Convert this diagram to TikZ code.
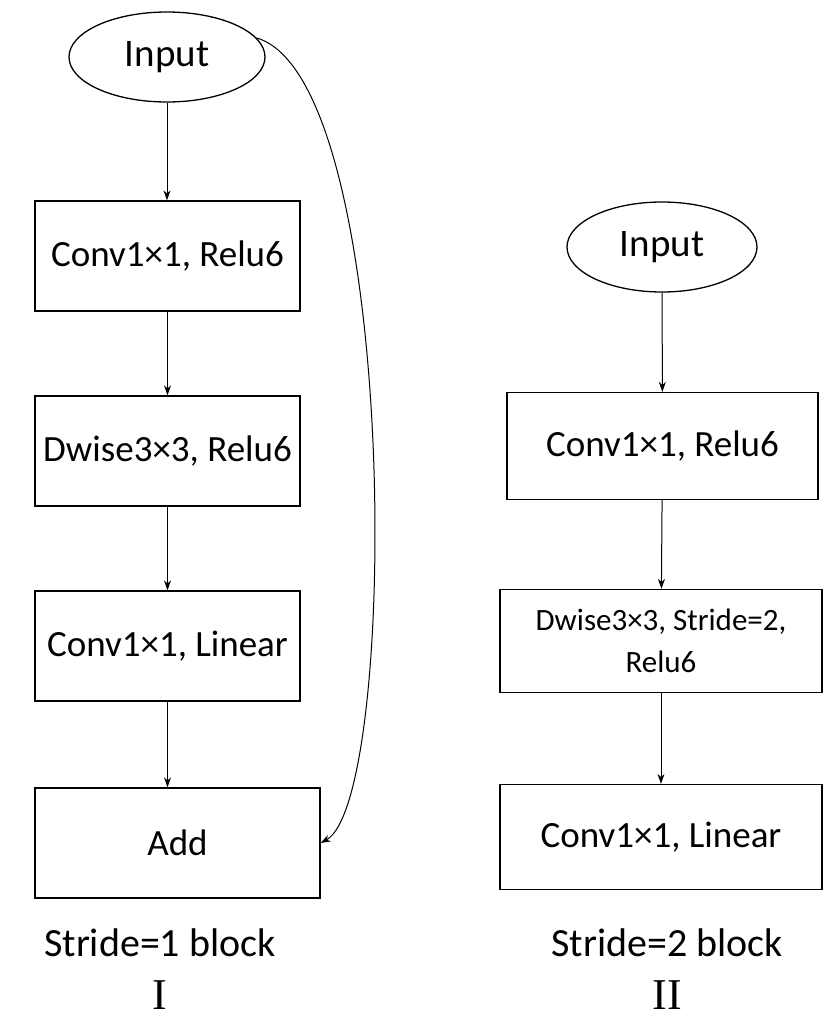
\documentclass[tikz,border=0pt]{standalone}
\usepackage{fontspec}
\setmainfont{Carlito}
\newfontfamily\romf{Liberation Serif}
\usetikzlibrary{shapes.geometric,arrows.meta}
\begin{document}
\begin{tikzpicture}[x=1pt,y=1pt,
  box/.style={draw,line width=1.3pt,inner xsep=1pt,minimum height=110pt,font=\fontsize{37}{42}\selectfont},
  ell/.style={draw,ellipse,line width=1.3pt,minimum width=196pt,minimum height=90pt,font=\fontsize{39}{44}\selectfont},
  arr/.style={-{Stealth[length=10pt,width=7pt]},line width=1pt},
  lab/.style={font=\fontsize{40}{46}\selectfont}]
\useasboundingbox (0,0) rectangle (826,-1021);
% left
\node[ell] (i1) at (167,-57) {Input};
\node[box,minimum width=265pt] (a1) at (167.5,-256) {Conv1×1, Relu6};
\node[box,minimum width=265pt] (a2) at (167.5,-451) {Dwise3×3, Relu6};
\node[box,minimum width=265pt] (a3) at (167.5,-646) {Conv1×1, Linear};
\node[box,minimum width=285pt] (a4) at (177.5,-843) {Add};
\draw[arr] (i1) -- (a1.north -| i1);
\draw[arr] (a1) -- (a2);
\draw[arr] (a2) -- (a3);
\draw[arr] (a3.south) -- (a3.south |- a4.north);
\draw[arr] (i1.12) .. controls (400,-80) and (400,-800) .. (a4.east);
\node[lab] (l1) at (160,-943) {Stride=1 block};
\node[font=\romf\fontsize{44}{48}\selectfont] (r1) at (160,-995) {I};
% right
\node[ell,minimum width=190pt] (i2) at (662,-247) {Input};
\node[box,minimum width=311pt,minimum height=107pt] (b1) at (662.5,-446) {Conv1×1, Relu6};
\node[box,minimum width=322pt,minimum height=103pt,font=\fontsize{31}{42}\selectfont,align=center] (b2) at (661,-641) {Dwise3×3, Stride=2,\\Relu6};
\node[box,minimum width=322pt,minimum height=105pt] (b3) at (661,-837) {Conv1×1, Linear};
\draw[arr] (i2) -- (b1);
\draw[arr] (b1) -- (b2);
\draw[arr] (b2) -- (b3);
\node[lab] (l2) at (667,-943) {Stride=2 block};
\node[font=\romf\fontsize{44}{48}\selectfont] (r2) at (667,-995) {II};
\end{tikzpicture}
\end{document}
